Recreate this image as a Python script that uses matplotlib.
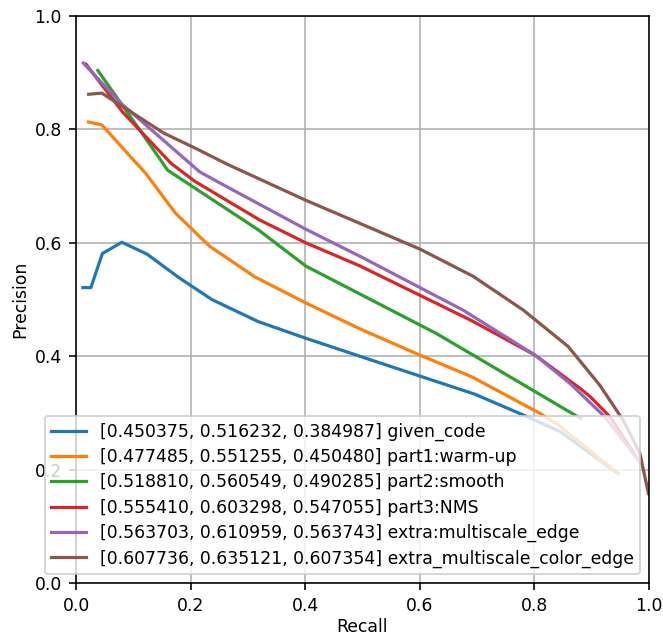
import matplotlib as ml
ml.use('Agg')
import matplotlib.pyplot as plt

# recall / precision
given_recall    = [0.012, 0.026, 0.046, 0.080, 0.124, 0.179, 0.237, 0.318, 0.403, 0.510, 0.696, 0.795, 0.845, 0.946]
given_precision = [0.521, 0.521, 0.581, 0.601, 0.580, 0.539, 0.500, 0.461, 0.431, 0.395, 0.333, 0.290, 0.267, 0.193]

warm_recall    = [0.022, 0.045, 0.122, 0.173, 0.233, 0.312, 0.403, 0.496, 0.600, 0.690, 0.810, 0.840, 0.946]
warm_precision = [0.813, 0.808, 0.722, 0.653, 0.594, 0.540, 0.493, 0.448, 0.402, 0.364, 0.299, 0.280, 0.193]

smooth_recall    = [0.038, 0.105, 0.160, 0.318, 0.401, 0.629, 0.693, 0.881]
smooth_precision = [0.904, 0.808, 0.728, 0.623, 0.559, 0.440, 0.402, 0.290]

nms_recall    = [0.0175, 0.081, 0.166, 0.208, 0.321, 0.401, 0.496, 0.688, 0.801, 0.880, 0.897, 0.932, 0.984]
nms_precision = [0.915, 0.831, 0.740, 0.708, 0.640, 0.600, 0.559, 0.464, 0.402, 0.343, 0.329, 0.293, 0.213]

ms_recall    = [0.0128, 0.0785, 0.216, 0.263, 0.401, 0.496, 0.676, 0.801, 0.862, 0.923, 0.984]
ms_precision = [0.917, 0.846, 0.725, 0.699, 0.624, 0.576, 0.481, 0.402, 0.352, 0.293, 0.213]

msc_recall    = [0.022, 0.045, 0.154, 0.208, 0.263, 0.401, 0.600, 0.693, 0.781, 0.859, 0.914, 0.955, 0.984, 0.999]
msc_precision = [0.862, 0.864, 0.793, 0.767, 0.739, 0.675, 0.589, 0.541, 0.481, 0.417, 0.349, 0.287, 0.229, 0.158]

labels = [
    '[0.450375, 0.516232, 0.384987] given_code',
    '[0.477485, 0.551255, 0.450480] part1:warm-up',
    '[0.518810, 0.560549, 0.490285] part2:smooth',
    '[0.555410, 0.603298, 0.547055] part3:NMS',
    '[0.563703, 0.610959, 0.563743] extra:multiscale_edge',
    '[0.607736, 0.635121, 0.607354] extra_multiscale_color_edge',
]

curves = [
    (given_recall, given_precision),
    (warm_recall, warm_precision),
    (smooth_recall, smooth_precision),
    (nms_recall, nms_precision),
    (ms_recall, ms_precision),
    (msc_recall, msc_precision),
]

plt.rcParams['font.size'] = 8.6

fig = plt.figure(figsize=(663/144., 635/144.), dpi=144)
ax = fig.add_axes([76/663., 52/635., 573/663., 567/635.])

for (r, p), lab in zip(curves, labels):
    ax.plot(r, p, label=lab, lw=1.6)

ax.set_xlim(0, 1)
ax.set_ylim(0, 1)
ax.grid(True)
ax.set_xlabel('Recall', labelpad=1.5)
ax.set_ylabel('Precision', labelpad=2.5)
ax.legend(loc='lower right', labelspacing=0.42)

fig.savefig('out.png', dpi=144)
